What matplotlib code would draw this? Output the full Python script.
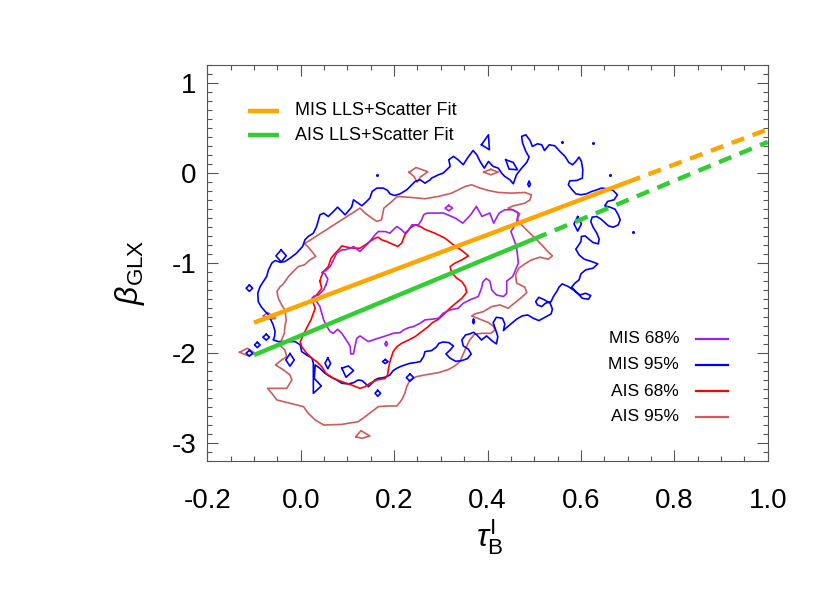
import numpy as np
import matplotlib
matplotlib.use('Agg')
import matplotlib.pyplot as plt
from matplotlib.ticker import MultipleLocator

# ---- data (tau_B^I, beta_GLX) ----
xticks = [-0.2, 0.0, 0.2, 0.4, 0.6, 0.8, 1.0]
xticklabels = ['-0.2', '0.0', '0.2', '0.4', '0.6', '0.8', '1.0']
yticks = [1, 0, -1, -2, -3]
yticklabels = ['1', '0', '-1', '-2', '-3']

# fits: (intercept, slope), solid range, dashed range
mis_fit = (-1.465, 1.95)
ais_fit = (-1.805, 2.15)
mis_solid = [-0.1, 0.7]
mis_dash = [0.7, 1.0]
ais_solid = [-0.1, 0.5]
ais_dash = [0.5, 1.0]

# MIS 95% contour (blue), main loop
mis95_main = [
    (0.013, -2.02), (0.002, -1.982), (-0.001, -1.908), (-0.012, -1.871), (-0.034, -1.871),
    (-0.048, -1.871), (-0.059, -1.852), (-0.056, -1.815), (-0.055, -1.759), (-0.059, -1.685),
    (-0.064, -1.63), (-0.069, -1.574), (-0.076, -1.537), (-0.085, -1.482), (-0.091, -1.426),
    (-0.092, -1.333), (-0.087, -1.26), (-0.080, -1.204), (-0.073, -1.148), (-0.069, -1.074),
    (-0.062, -1.0), (-0.055, -0.971), (-0.044, -0.99), (-0.034, -0.982), (-0.023, -0.945),
    (-0.009, -0.889), (0.004, -0.815), (0.009, -0.741), (0.016, -0.704), (0.027, -0.667),
    (0.034, -0.593), (0.038, -0.519), (0.041, -0.464), (0.049, -0.445), (0.059, -0.482),
    (0.070, -0.427), (0.079, -0.378), (0.088, -0.427), (0.095, -0.464), (0.103, -0.415),
    (0.109, -0.378), (0.113, -0.297), (0.123, -0.334), (0.131, -0.363), (0.141, -0.315),
    (0.148, -0.278), (0.153, -0.204), (0.163, -0.167), (0.177, -0.167), (0.186, -0.193),
    (0.191, -0.23), (0.201, -0.249), (0.213, -0.230), (0.227, -0.186), (0.238, -0.130),
    (0.245, -0.093), (0.256, -0.075), (0.266, -0.112), (0.277, -0.075), (0.280, -0.056),
    (0.295, -0.019), (0.305, 0.0), (0.320, 0.074), (0.317, 0.148), (0.327, 0.185),
    (0.337, 0.148), (0.348, 0.093), (0.357, 0.166), (0.369, 0.251), (0.377, 0.203),
    (0.384, 0.129), (0.393, 0.055), (0.402, 0.129), (0.412, 0.074), (0.423, 0.055),
    (0.430, 0.0), (0.437, -0.038), (0.448, -0.075), (0.455, -0.119), (0.462, -0.019),
    (0.473, 0.055), (0.484, 0.118), (0.489, 0.177), (0.482, 0.240), (0.475, 0.333),
    (0.473, 0.407), (0.482, 0.425), (0.491, 0.362), (0.496, 0.296), (0.507, 0.325),
    (0.516, 0.314), (0.522, 0.251), (0.532, 0.314), (0.544, 0.303), (0.555, 0.240),
    (0.566, 0.185), (0.574, 0.118), (0.582, 0.092), (0.589, 0.129), (0.596, 0.177),
    (0.601, 0.129), (0.604, 0.037), (0.603, -0.056), (0.591, -0.082), (0.576, -0.086),
    (0.573, -0.130), (0.580, -0.178), (0.589, -0.230), (0.600, -0.241), (0.612, -0.230),
    (0.623, -0.204), (0.634, -0.186), (0.644, -0.167), (0.657, -0.175), (0.669, -0.193),
    (0.678, -0.241), (0.671, -0.297), (0.657, -0.315), (0.651, -0.364), (0.662, -0.378),
    (0.673, -0.401), (0.680, -0.464), (0.684, -0.519), (0.680, -0.575), (0.669, -0.601),
    (0.659, -0.586), (0.651, -0.549), (0.643, -0.512), (0.634, -0.482), (0.624, -0.489),
    (0.621, -0.538), (0.626, -0.601), (0.634, -0.667), (0.639, -0.734), (0.637, -0.786),
    (0.626, -0.771), (0.617, -0.734), (0.609, -0.697), (0.601, -0.704), (0.600, -0.760),
    (0.594, -0.808), (0.589, -0.845), (0.596, -0.908), (0.607, -0.956), (0.623, -0.982),
    (0.636, -1.008), (0.626, -1.056), (0.610, -1.075), (0.600, -1.119), (0.596, -1.186),
    (0.587, -1.223), (0.580, -1.267), (0.591, -1.327), (0.603, -1.390), (0.616, -1.401),
    (0.621, -1.360), (0.610, -1.334), (0.598, -1.353), (0.586, -1.305), (0.573, -1.260),
    (0.560, -1.230), (0.553, -1.267), (0.548, -1.316), (0.541, -1.371), (0.536, -1.427),
    (0.524, -1.445), (0.516, -1.482), (0.507, -1.464), (0.503, -1.427), (0.510, -1.379),
    (0.522, -1.408), (0.534, -1.445), (0.539, -1.512), (0.536, -1.564), (0.523, -1.601),
    (0.510, -1.638), (0.498, -1.612), (0.486, -1.575), (0.474, -1.586), (0.462, -1.623),
    (0.450, -1.675), (0.439, -1.723), (0.434, -1.749), (0.437, -1.675), (0.432, -1.612),
    (0.419, -1.601), (0.412, -1.660), (0.417, -1.734), (0.422, -1.816), (0.419, -1.897),
    (0.409, -1.860), (0.398, -1.808), (0.387, -1.853), (0.377, -1.797), (0.370, -1.767),
    (0.362, -1.786), (0.353, -1.797), (0.345, -1.853), (0.348, -1.919), (0.359, -1.956),
    (0.365, -2.008), (0.357, -2.060), (0.345, -2.082), (0.332, -2.090), (0.320, -2.056),
    (0.311, -2.008), (0.320, -1.964), (0.327, -1.919), (0.317, -1.882), (0.305, -1.875),
    (0.296, -1.890), (0.290, -1.934), (0.280, -1.971), (0.266, -1.982), (0.263, -2.038),
    (0.256, -2.093), (0.245, -2.104), (0.234, -2.112), (0.223, -2.130), (0.213, -2.149),
    (0.206, -2.167), (0.198, -2.193), (0.191, -2.241), (0.184, -2.260), (0.177, -2.271),
    (0.166, -2.279), (0.159, -2.297), (0.152, -2.334), (0.145, -2.371), (0.138, -2.334),
    (0.131, -2.304), (0.123, -2.297), (0.113, -2.327), (0.102, -2.341), (0.088, -2.334),
    (0.077, -2.297), (0.063, -2.260), (0.052, -2.223), (0.041, -2.167), (0.031, -2.130),
    (0.029, -2.279), (0.044, -2.364), (0.027, -2.445), (0.027, -2.111), (0.024, -2.056),
]
# small closed MIS 95% islands: diamonds (x, y, half-width, half-height)
mis95_diamonds = [
    (-0.042, -0.919, 0.011, 0.067), (-0.110, -1.278, 0.007, 0.035), (-0.074, -1.822, 0.007, 0.033),
    (-0.093, -1.908, 0.006, 0.030), (-0.110, -2.000, 0.007, 0.033), (-0.023, -2.074, 0.009, 0.070),
    (0.058, -2.112, 0.006, 0.060), (0.181, -2.093, 0.006, 0.022), (0.165, -2.445, 0.006, 0.033),
    (0.234, -2.271, 0.008, 0.040), (0.593, -0.564, 0.008, 0.080), (0.489, -0.123, 0.003, 0.030),
    (0.370, -1.649, 0.002, 0.025),
]
mis95_polys = [
    [(0.088, -2.167), (0.102, -2.141), (0.113, -2.193), (0.097, -2.267)],
    [(0.387, 0.314), (0.402, 0.425), (0.404, 0.259)],
    [(0.439, 0.148), (0.455, 0.118), (0.464, 0.037), (0.446, 0.044)],
]
mis95_dots_x = [0.164, 0.559, 0.626, 0.662, 0.712]
mis95_dots_y = [-0.019, 0.340, 0.330, -0.019, -0.649]

# MIS 68% contour (purple)
mis68_main = [
    (0.054, -1.241), (0.058, -1.178), (0.052, -1.119), (0.045, -1.104), (0.054, -1.082),
    (0.063, -1.038), (0.070, -0.964), (0.077, -0.889), (0.088, -0.852), (0.095, -0.852),
    (0.106, -0.834), (0.113, -0.815), (0.122, -0.852), (0.127, -0.871), (0.134, -0.834),
    (0.145, -0.778), (0.156, -0.704), (0.166, -0.649), (0.181, -0.649), (0.191, -0.667),
    (0.198, -0.630), (0.206, -0.593), (0.216, -0.630), (0.223, -0.667), (0.231, -0.630),
    (0.238, -0.575), (0.252, -0.575), (0.259, -0.519), (0.263, -0.464), (0.270, -0.445),
    (0.282, -0.444), (0.306, -0.444), (0.331, -0.50), (0.347, -0.556), (0.364, -0.463),
    (0.376, -0.370), (0.388, -0.481), (0.405, -0.444), (0.413, -0.556), (0.425, -0.444),
    (0.437, -0.407), (0.454, -0.407), (0.466, -0.444), (0.462, -0.556), (0.450, -0.648),
    (0.462, -0.815), (0.466, -1.0), (0.454, -1.148), (0.441, -1.20), (0.441, -1.334),
    (0.434, -1.371), (0.419, -1.353), (0.409, -1.297), (0.405, -1.20), (0.397, -1.17),
    (0.390, -1.21), (0.387, -1.279), (0.380, -1.371), (0.362, -1.408), (0.348, -1.445),
    (0.337, -1.501), (0.320, -1.519), (0.305, -1.556), (0.295, -1.612), (0.280, -1.623),
    (0.266, -1.630), (0.256, -1.667), (0.241, -1.705), (0.231, -1.716), (0.220, -1.742),
    (0.213, -1.771), (0.198, -1.779), (0.188, -1.797), (0.177, -1.816), (0.159, -1.845),
    (0.145, -1.871), (0.134, -1.834), (0.127, -1.808), (0.120, -1.834), (0.116, -1.927),
    (0.113, -2.008), (0.107, -2.008), (0.106, -1.927), (0.102, -1.890), (0.095, -1.834),
    (0.088, -1.779), (0.079, -1.734), (0.070, -1.779), (0.063, -1.760), (0.054, -1.686),
    (0.049, -1.630), (0.045, -1.556), (0.041, -1.482), (0.034, -1.427), (0.027, -1.371),
    (0.038, -1.353), (0.049, -1.297),
]
mis68_diamonds = [(0.317, -0.389, 0.008, 0.030), (0.183, -1.897, 0.003, 0.025)]

# AIS 68% contour (red)
ais68_main = [
    (0.041, -1.20), (0.044, -1.149), (0.049, -1.093), (0.059, -1.038), (0.065, -0.945),
    (0.074, -0.889), (0.084, -0.834), (0.088, -0.808), (0.099, -0.823), (0.113, -0.834),
    (0.127, -0.834), (0.138, -0.797), (0.148, -0.760), (0.159, -0.723), (0.166, -0.712),
    (0.173, -0.741), (0.184, -0.760), (0.195, -0.786), (0.208, -0.815), (0.216, -0.778),
    (0.223, -0.686), (0.234, -0.612), (0.245, -0.575), (0.256, -0.593), (0.266, -0.625),
    (0.287, -0.667), (0.309, -0.723), (0.327, -0.797), (0.345, -0.860), (0.359, -0.919),
    (0.345, -0.964), (0.330, -1.0), (0.320, -1.038), (0.323, -1.104), (0.334, -1.167),
    (0.345, -1.205), (0.353, -1.267), (0.355, -1.327), (0.345, -1.390), (0.330, -1.453),
    (0.317, -1.512), (0.305, -1.575), (0.295, -1.623), (0.282, -1.660), (0.273, -1.705),
    (0.259, -1.760), (0.245, -1.816), (0.231, -1.853), (0.216, -1.890), (0.206, -1.927),
    (0.198, -1.982), (0.191, -2.093), (0.188, -2.167), (0.186, -2.241), (0.181, -2.279),
    (0.163, -2.297), (0.148, -2.334), (0.138, -2.371), (0.127, -2.390), (0.109, -2.353),
    (0.088, -2.316), (0.070, -2.279), (0.054, -2.223), (0.045, -2.149), (0.034, -2.093),
    (0.024, -2.056), (0.013, -2.001), (0.002, -1.927), (-0.001, -1.871), (0.009, -1.760),
    (0.016, -1.686), (0.022, -1.630), (0.027, -1.556), (0.031, -1.501), (0.027, -1.445),
    (0.024, -1.390), (0.034, -1.353), (0.045, -1.279),
]

# AIS 95% contour (indian red)
ais95_main = [
    (0.008, -0.785), (0.127, -0.389), (0.138, -0.445), (0.152, -0.5), (0.163, -0.537),
    (0.173, -0.519), (0.178, -0.389), (0.191, -0.334), (0.207, -0.260), (0.238, -0.271),
    (0.266, -0.285), (0.295, -0.259), (0.323, -0.223), (0.352, -0.149), (0.366, -0.130),
    (0.384, -0.167), (0.402, -0.193), (0.423, -0.215), (0.452, -0.223), (0.480, -0.215),
    (0.494, -0.241), (0.491, -0.297), (0.480, -0.334), (0.455, -0.364), (0.444, -0.389),
    (0.457, -0.415), (0.469, -0.452), (0.464, -0.512), (0.473, -0.575), (0.487, -0.649),
    (0.502, -0.723), (0.516, -0.797), (0.529, -0.871), (0.539, -0.919), (0.530, -0.956),
    (0.512, -0.934), (0.494, -0.964), (0.480, -1.008), (0.467, -1.056), (0.460, -1.130),
    (0.462, -1.22), (0.480, -1.267), (0.484, -1.327), (0.473, -1.379), (0.459, -1.438),
    (0.444, -1.501), (0.427, -1.464), (0.409, -1.482), (0.391, -1.538), (0.373, -1.564),
    (0.366, -1.586), (0.384, -1.623), (0.402, -1.660), (0.412, -1.697), (0.416, -1.742),
    (0.407, -1.779), (0.387, -1.779), (0.372, -1.790), (0.362, -1.853), (0.355, -1.927),
    (0.348, -2.008), (0.341, -2.093), (0.330, -2.141), (0.317, -2.179), (0.295, -2.216),
    (0.266, -2.241), (0.248, -2.260), (0.234, -2.297), (0.227, -2.371), (0.223, -2.445),
    (0.216, -2.519), (0.206, -2.586), (0.184, -2.586), (0.166, -2.593), (0.152, -2.649),
    (0.138, -2.704), (0.123, -2.760), (0.088, -2.790), (0.049, -2.797), (0.031, -2.741),
    (0.016, -2.667), (0.006, -2.593), (-0.023, -2.556), (-0.051, -2.519), (-0.062, -2.445),
    (-0.071, -2.390), (-0.030, -2.390), (-0.019, -2.297), (-0.023, -2.241), (-0.037, -2.186),
    (-0.054, -2.130), (-0.041, -2.075), (-0.030, -2.038), (-0.034, -1.963), (-0.042, -1.926),
    (-0.041, -1.852), (-0.035, -1.778), (-0.034, -1.704), (-0.031, -1.63), (-0.034, -1.519),
    (-0.041, -1.463), (-0.048, -1.389), (-0.051, -1.315), (-0.044, -1.26), (-0.039, -1.241),
    (-0.026, -1.148), (-0.016, -1.093), (-0.005, -1.037), (0.008, -1.019), (0.020, -0.963),
    (0.032, -0.926), (0.024, -0.871), (0.015, -0.815),
]
ais95_polys = [
    [(0.232, 0.010), (0.247, 0.062), (0.272, 0.015), (0.256, -0.045), (0.249, -0.100), (0.243, -0.040)],
    [(-0.131, -1.989), (-0.114, -1.945), (-0.098, -2.000), (-0.112, -2.030)],
    [(-0.080, -1.585), (-0.071, -1.548), (-0.062, -1.578), (-0.054, -1.615), (-0.066, -1.622)],
    [(0.118, -2.927), (0.129, -2.860), (0.148, -2.919), (0.131, -2.945)],
]
ais95_diamonds = [(0.407, 0.011, 0.016, 0.030)]

C_MIS68 = '#A020F0'
C_MIS95 = '#0000FF'
C_AIS68 = '#FF0000'
C_AIS95 = '#CD5C5C'
C_ORANGE = '#FFA500'
C_GREEN = '#32CD32'

plt.rcParams['font.family'] = ['Liberation Sans', 'DejaVu Sans']
plt.rcParams['axes.unicode_minus'] = False
plt.rcParams['mathtext.fontset'] = 'custom'
plt.rcParams['mathtext.rm'] = 'Liberation Sans'
plt.rcParams['mathtext.it'] = 'Liberation Sans:italic'

fig = plt.figure(figsize=(8.3, 5.93), dpi=100)
ax = fig.add_axes([0.2498, 0.2221, 0.6752, 0.6683])

LW = 1.2


def loop(pts, color):
    a = np.array(pts + [pts[0]])
    ax.plot(a[:, 0], a[:, 1], color=color, lw=LW)


def diamonds(items, color):
    for x, y, hw, hh in items:
        ax.plot([x, x + hw, x, x - hw, x], [y + hh, y, y - hh, y, y + hh], color=color, lw=LW)


loop(ais95_main, C_AIS95)
for p in ais95_polys:
    loop(p, C_AIS95)
diamonds(ais95_diamonds, C_AIS95)

loop(mis95_main, C_MIS95)
for p in mis95_polys:
    loop(p, C_MIS95)
diamonds(mis95_diamonds, C_MIS95)
ax.plot(mis95_dots_x, mis95_dots_y, ls='none', marker='o', ms=1.2, color=C_MIS95)

loop(ais68_main, C_AIS68)
loop(mis68_main, C_MIS68)
diamonds(mis68_diamonds, C_MIS68)

# fit lines
for (a, b), solid, dash, col in [(mis_fit, mis_solid, mis_dash, C_ORANGE),
                                 (ais_fit, ais_solid, ais_dash, C_GREEN)]:
    xs = np.array(solid)
    ax.plot(xs, a + b * xs, color=col, lw=3.2, solid_capstyle='butt')
    xd = np.array(dash)
    ax.plot(xd, a + b * xd, color=col, lw=3.2, dashes=(3, 2), dash_capstyle='butt')

# legend: fits (upper left)
for yy, col, lab in [(0.885, C_ORANGE, 'MIS LLS+Scatter Fit'),
                     (0.823, C_GREEN, 'AIS LLS+Scatter Fit')]:
    ax.plot([0.073, 0.128], [yy, yy], transform=ax.transAxes, color=col, lw=3.2,
            solid_capstyle='butt')
    ax.text(0.156, yy, lab, transform=ax.transAxes, va='center', ha='left', fontsize=13)

# legend: contours (lower right)
for yy, col, lab in [(0.309, C_MIS68, 'MIS 68%'), (0.243, C_MIS95, 'MIS 95%'),
                     (0.177, C_AIS68, 'AIS 68%'), (0.112, C_AIS95, 'AIS 95%')]:
    ax.plot([0.872, 0.929], [yy, yy], transform=ax.transAxes, color=col, lw=1.6)
    ax.text(0.842, yy, lab, transform=ax.transAxes, va='center', ha='right', fontsize=12.5)

ax.set_xlim(-0.2, 1.0)
ax.set_ylim(-3.2, 1.2)
ax.set_xticks(xticks)
ax.set_xticklabels(xticklabels)
ax.set_yticks(yticks)
ax.set_yticklabels(yticklabels)
ax.xaxis.set_minor_locator(MultipleLocator(0.05))
ax.yaxis.set_minor_locator(MultipleLocator(0.1))
ax.tick_params(which='both', direction='in', top=True, right=True, color='#555555', width=0.8)
ax.tick_params(which='major', length=8, labelsize=20)
ax.tick_params(which='minor', length=3.6)
ax.tick_params(axis='x', which='major', pad=19)
ax.tick_params(axis='y', which='major', pad=8)
for s in ax.spines.values():
    s.set_color('#555555')
    s.set_linewidth(0.8)

fig.text(0.157, 0.541, r'$\beta_{\rm GLX}$', rotation=90, fontsize=23, ha='center', va='center')
fig.text(0.590, 0.094, r'$\tau_{\rm B}^{\rm I}$', fontsize=23, ha='center', va='center')

fig.savefig('out.png', dpi=100)
